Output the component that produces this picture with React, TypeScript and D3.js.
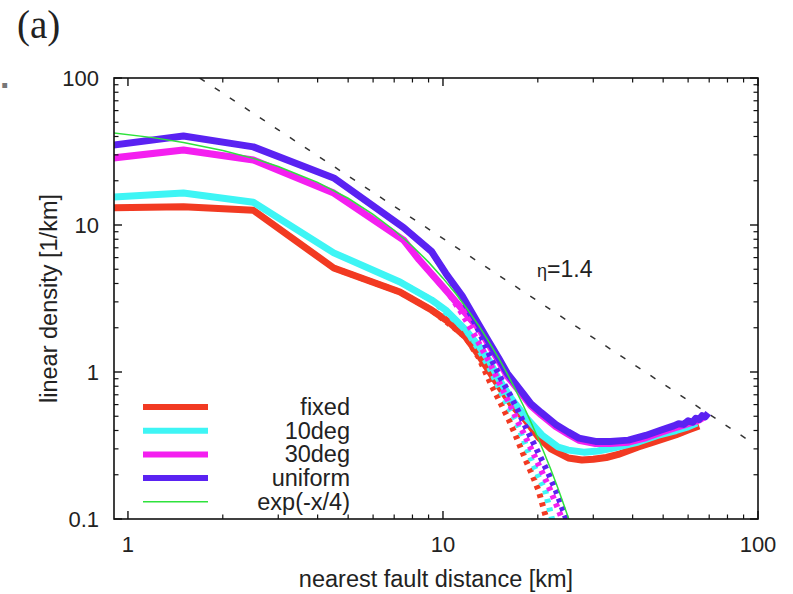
import React from "react";
import * as d3 from "d3";

const W = 793;
const H = 594;
const PL = 114, PR = 758, PT = 78, PB = 519;

// Axis ticks
const xMajor = [1, 10, 100];
const xMajorLabels = ["1", "10", "100"];
const xMinor = [2, 3, 4, 5, 6, 7, 8, 9, 20, 30, 40, 50, 60, 70, 80, 90];
const yMajor = [0.1, 1, 10, 100];
const yMajorLabels = ["0.1", "1", "10", "100"];
const yMinor = [0.2, 0.3, 0.4, 0.5, 0.6, 0.7, 0.8, 0.9, 2, 3, 4, 5, 6, 7, 8, 9, 20, 30, 40, 50, 60, 70, 80, 90];

// Legend
const seriesNames = ["fixed", "10deg", "30deg", "uniform", "exp(-x/4)"];
const seriesColors = ["#f23a22", "#3ef5f5", "#f41ff0", "#5a22f2", "#2ee23c"];

// fixed (red) — solid
const fixedX = [0.9, 1.5, 2.5, 4.5, 7.3, 9.2, 10.4, 11.8, 13, 14.3, 15.3, 16.5, 18.3, 20.1, 22, 25, 27.6, 30, 33, 36, 41.7, 46, 50, 55, 60, 65];
const fixedY = [13.1, 13.3, 12.6, 5.1, 3.5, 2.64, 2.2, 1.73, 1.3, 0.95, 0.76, 0.6, 0.47, 0.36, 0.3, 0.26, 0.252, 0.255, 0.262, 0.275, 0.309, 0.33, 0.35, 0.375, 0.403, 0.43];
// fixed — dotted
const fixedDotX = [4.5, 7.3, 9.2, 11.8, 13, 14.3, 15.2, 16.2, 17.2, 18.3, 19.2, 20.1, 21.1, 21.8];
const fixedDotY = [5.1, 3.5, 2.64, 1.73, 1.25, 0.8, 0.62, 0.471, 0.35, 0.252, 0.2, 0.157, 0.108, 0.085];

// 10deg (cyan) — solid
const deg10X = [0.9, 1.5, 2.5, 4.5, 7.3, 9.2, 10.2, 11.8, 13, 14, 15, 16.6, 18.3, 20.6, 23.2, 25, 28, 31, 35, 41.7, 48, 55, 60, 64];
const deg10Y = [15.5, 16.5, 14.3, 6.46, 4.1, 3.09, 2.64, 1.93, 1.5, 1.2, 0.9, 0.645, 0.494, 0.373, 0.309, 0.294, 0.285, 0.29, 0.305, 0.334, 0.37, 0.4, 0.423, 0.45];
// 10deg — dotted
const deg10DotX = [7.3, 9.2, 11.8, 13, 14, 15, 16, 17, 18, 19.1, 20, 21.1, 22, 22.6];
const deg10DotY = [4.1, 3.09, 1.93, 1.42, 1.08, 0.79, 0.6, 0.471, 0.35, 0.252, 0.2, 0.157, 0.108, 0.085];

// 30deg (magenta) — solid (tail runs just beneath "uniform")
const deg30X = [0.9, 1.5, 2.5, 4.5, 7.5, 8.4, 10.4, 12, 13, 14, 15, 16, 17, 18, 19, 20.5, 22.8, 25, 27, 30.5, 34, 38.8, 44, 49.3, 54, 58, 62, 65, 68];
const deg30Y = [28.6, 32.4, 27.7, 16.5, 7.9, 5.8, 3.45, 2.4, 1.98, 1.53, 1.2, 0.94, 0.8, 0.685, 0.59, 0.512, 0.425, 0.377, 0.343, 0.326, 0.326, 0.333, 0.357, 0.39, 0.415, 0.435, 0.455, 0.472, 0.5];
// 30deg — dotted
const deg30DotX = [7.5, 8.4, 10.4, 11.5, 13, 14, 15.2, 16.2, 17.2, 18.3, 19.5, 20.6, 21.7, 22.8, 23.8, 24.6];
const deg30DotY = [7.9, 5.8, 3.45, 2.5, 1.57, 1.18, 0.82, 0.62, 0.47, 0.36, 0.27, 0.21, 0.165, 0.128, 0.102, 0.085];

// uniform (blue) — solid
const unifX = [0.9, 1.5, 2.5, 4.5, 7.5, 9.2, 10.2, 11.5, 13, 14, 15, 16, 17, 18, 19, 20.5, 22.8, 25, 27, 30.5, 34, 38.8, 44, 49.3, 54, 56, 58, 60, 62, 63.5, 65, 66.5, 68, 69.5];
const unifY = [35, 40.3, 34, 20.9, 9.6, 6.6, 4.7, 3.3, 2.1, 1.6, 1.25, 0.98, 0.83, 0.71, 0.61, 0.53, 0.44, 0.39, 0.355, 0.337, 0.337, 0.344, 0.37, 0.403, 0.43, 0.445, 0.44, 0.465, 0.455, 0.485, 0.475, 0.505, 0.495, 0.525];
// uniform — dotted
const unifDotX = [7.5, 9.2, 10.2, 11.5, 13, 14.3, 15.2, 16.2, 17.2, 18.3, 19.5, 20.6, 21.7, 22.8, 23.7, 24.5, 25.3];
const unifDotY = [9.6, 6.6, 4.7, 3.2, 1.9, 1.2, 0.92, 0.72, 0.56, 0.423, 0.32, 0.252, 0.2, 0.157, 0.125, 0.103, 0.085];

// exp(-x/4) reference curve (green)
const expX = [0.9, 1.2, 1.5, 2, 2.5, 3, 4, 5, 6, 7, 8, 9, 10, 11, 12, 13, 14, 15, 16, 17, 18, 19, 20, 21, 22, 23, 24, 25, 26];
const expY = [42.3, 39.3, 36.4, 32.1, 28.4, 25.0, 19.5, 15.2, 11.8, 9.21, 7.17, 5.59, 4.35, 3.39, 2.64, 2.06, 1.6, 1.25, 0.971, 0.756, 0.589, 0.458, 0.357, 0.278, 0.217, 0.169, 0.131, 0.102, 0.08];

// eta = 1.4 power-law guide (end points)
const guideX = [1.69, 95];
const guideY = [100, 0.335];

type P = [number, number];
const zip = (xs: number[], ys: number[]): P[] => xs.map((x, i) => [x, ys[i]]);

export default function App() {
  const x = d3.scaleLog().domain([0.903, 100]).range([PL, PR]);
  const y = d3.scaleLog().domain([0.1, 100]).range([PB, PT]);
  const line = d3.line<P>().x((d) => x(d[0])).y((d) => y(d[1]));

  const solids: { pts: P[]; color: string }[] = [
    { pts: zip(fixedX, fixedY), color: seriesColors[0] },
    { pts: zip(deg10X, deg10Y), color: seriesColors[1] },
    { pts: zip(deg30X, deg30Y), color: seriesColors[2] },
    { pts: zip(unifX, unifY), color: seriesColors[3] },
  ];
  const dotted: { pts: P[]; color: string }[] = [
    { pts: zip(fixedDotX, fixedDotY), color: seriesColors[0] },
    { pts: zip(deg10DotX, deg10DotY), color: seriesColors[1] },
    { pts: zip(deg30DotX, deg30DotY), color: seriesColors[2] },
    { pts: zip(unifDotX, unifDotY), color: seriesColors[3] },
  ];

  const font = "'Liberation Sans', Arial, Helvetica, sans-serif";
  const majLen = 8, minLen = 4.5;

  const legendY0 = 407;
  const legendDy = 23.7;

  return (
    <svg width={W} height={H} style={{ position: "absolute", left: 0, top: 0, background: "#fff" }}>
      <defs>
        <clipPath id="plotClip">
          <rect x={PL} y={PT} width={PR - PL} height={PB - PT} />
        </clipPath>
      </defs>
      <rect x={0} y={0} width={W} height={H} fill="#fff" />

      {/* panel label */}
      <text x={17} y={38} fontFamily="'Liberation Serif', 'Times New Roman', serif" fontSize={39} fill="#222">(a)</text>
      <text x={0} y={88} fontFamily={font} fontSize={34} fontWeight="bold" fill="#777">.</text>

      {/* data */}
      <g clipPath="url(#plotClip)">
        <path
          d={line(zip(guideX, guideY)) || ""}
          fill="none"
          stroke="#333"
          strokeWidth={1.5}
          strokeDasharray="6 12"
        />
        {solids.map((s, i) => (
          <path key={"s" + i} d={line(s.pts) || ""} fill="none" stroke={s.color} strokeWidth={7} strokeLinejoin="round" />
        ))}
        {dotted.map((s, i) => (
          <path key={"d" + i} d={line(s.pts) || ""} fill="none" stroke={s.color} strokeWidth={6} strokeDasharray="4 5" />
        ))}
        <path d={line(zip(expX, expY)) || ""} fill="none" stroke={seriesColors[4]} strokeWidth={1.5} />
      </g>

      {/* frame */}
      <rect x={PL} y={PT} width={PR - PL} height={PB - PT} fill="none" stroke="#111" strokeWidth={1.6} />

      {/* x ticks */}
      {xMajor.map((v, i) => (
        <g key={"xm" + i}>
          <line x1={x(v)} x2={x(v)} y1={PB} y2={PB - majLen} stroke="#111" strokeWidth={1.4} />
          <line x1={x(v)} x2={x(v)} y1={PT} y2={PT + majLen} stroke="#111" strokeWidth={1.4} />
          <text x={x(v)} y={552} textAnchor="middle" fontFamily={font} fontSize={22} fill="#222">{xMajorLabels[i]}</text>
        </g>
      ))}
      {xMinor.map((v, i) => (
        <g key={"xn" + i}>
          <line x1={x(v)} x2={x(v)} y1={PB} y2={PB - minLen} stroke="#111" strokeWidth={1.2} />
          <line x1={x(v)} x2={x(v)} y1={PT} y2={PT + minLen} stroke="#111" strokeWidth={1.2} />
        </g>
      ))}

      {/* y ticks */}
      {yMajor.map((v, i) => (
        <g key={"ym" + i}>
          <line x1={PL} x2={PL + majLen} y1={y(v)} y2={y(v)} stroke="#111" strokeWidth={1.4} />
          <line x1={PR} x2={PR - majLen} y1={y(v)} y2={y(v)} stroke="#111" strokeWidth={1.4} />
          <text x={99} y={y(v) + 8} textAnchor="end" fontFamily={font} fontSize={22} fill="#222">{yMajorLabels[i]}</text>
        </g>
      ))}
      {yMinor.map((v, i) => (
        <g key={"yn" + i}>
          <line x1={PL} x2={PL + minLen} y1={y(v)} y2={y(v)} stroke="#111" strokeWidth={1.2} />
          <line x1={PR} x2={PR - minLen} y1={y(v)} y2={y(v)} stroke="#111" strokeWidth={1.2} />
        </g>
      ))}

      {/* axis titles */}
      <text x={(PL + PR) / 2} y={587} textAnchor="middle" fontFamily={font} fontSize={23.5} fill="#222">nearest fault distance [km]</text>
      <text transform={`translate(57, ${(PT + PB) / 2}) rotate(-90)`} textAnchor="middle" fontFamily={font} fontSize={23.5} fill="#222">linear density [1/km]</text>

      {/* eta annotation */}
      <text x={537} y={277} fontFamily={font} fontSize={23} fill="#222">
        <tspan fontSize={18}>η</tspan>
        <tspan>=1.4</tspan>
      </text>

      {/* legend */}
      {seriesNames.map((n, i) => {
        const ly = legendY0 + i * legendDy;
        return (
          <g key={"lg" + i}>
            <line x1={143} x2={208} y1={ly} y2={ly} stroke={seriesColors[i]} strokeWidth={i === 4 ? 1.5 : 6} />
            <text x={350} y={ly + 8} textAnchor="end" fontFamily={font} fontSize={23.5} fill="#222">{n}</text>
          </g>
        );
      })}
    </svg>
  );
}
